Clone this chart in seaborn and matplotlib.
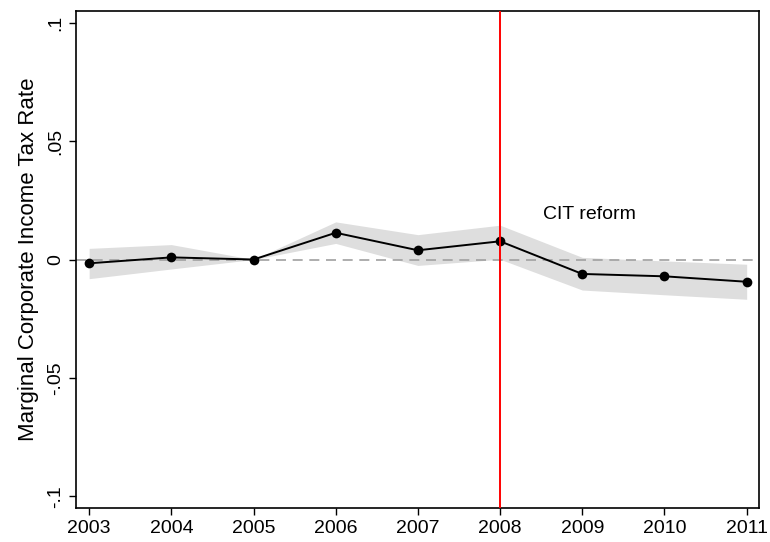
import matplotlib
matplotlib.use("Agg")
import matplotlib.pyplot as plt
import pandas as pd
import seaborn as sns

years = [2003, 2004, 2005, 2006, 2007, 2008, 2009, 2010, 2011]
coef = [-0.0016, 0.0009, 0.0, 0.0113, 0.0039, 0.0077, -0.0061, -0.0071, -0.0094]
ci_low = [-0.0081, -0.0040, 0.0, 0.0068, -0.0025, 0.0001, -0.0129, -0.0149, -0.0168]
ci_high = [0.0047, 0.0063, 0.0, 0.0159, 0.0105, 0.0145, 0.0009, -0.0006, -0.0020]
ytick_vals = [-0.1, -0.05, 0, 0.05, 0.1]
ytick_labels = ["-.1", "-.05", "0", ".05", ".1"]
reform_year = 2008

df = pd.DataFrame({"year": years, "coef": coef, "lo": ci_low, "hi": ci_high})

sns.set_theme(style="white", rc={"text.color": "black", "axes.labelcolor": "black",
                                 "xtick.color": "black", "ytick.color": "black"})
plt.rcParams["font.family"] = ["Liberation Sans", "DejaVu Sans"]

fig = plt.figure(figsize=(7.7, 5.42), dpi=100)
ax = fig.add_axes([0.0987, 0.0627, 0.887, 0.917])

ax.fill_between(df["year"], df["lo"], df["hi"], color="#dedede", linewidth=0, zorder=1)
ax.axhline(0, color="#a0a0a0", linestyle=(0, (6, 4)), linewidth=1.2, zorder=2)
sns.lineplot(data=df, x="year", y="coef", ax=ax, color="black", linewidth=1.4,
             marker="o", markersize=7, markeredgewidth=0, zorder=3)
ax.axvline(reform_year, color="red", linewidth=1.4, zorder=4)
ax.text(reform_year + 0.52, 0.0192, "CIT reform", fontsize=14, va="center", ha="left")

ax.set_xlim(2002.84, 2011.15)
ax.set_ylim(-0.105, 0.105)
ax.set_xticks(years)
ax.set_xticklabels([str(y) for y in years])
ax.set_yticks(ytick_vals)
ax.set_yticklabels(ytick_labels, rotation=90, va="center")
ax.set_xlabel("")
ax.set_ylabel("Marginal Corporate Income Tax Rate", fontsize=16, labelpad=6)
ax.tick_params(axis="both", labelsize=14, length=5, width=1, direction="out",
               bottom=True, left=True, color="black")
for side, sp in ax.spines.items():
    sp.set_color("black")
    sp.set_linewidth(1.2)

fig.savefig("out.png", dpi=100)
